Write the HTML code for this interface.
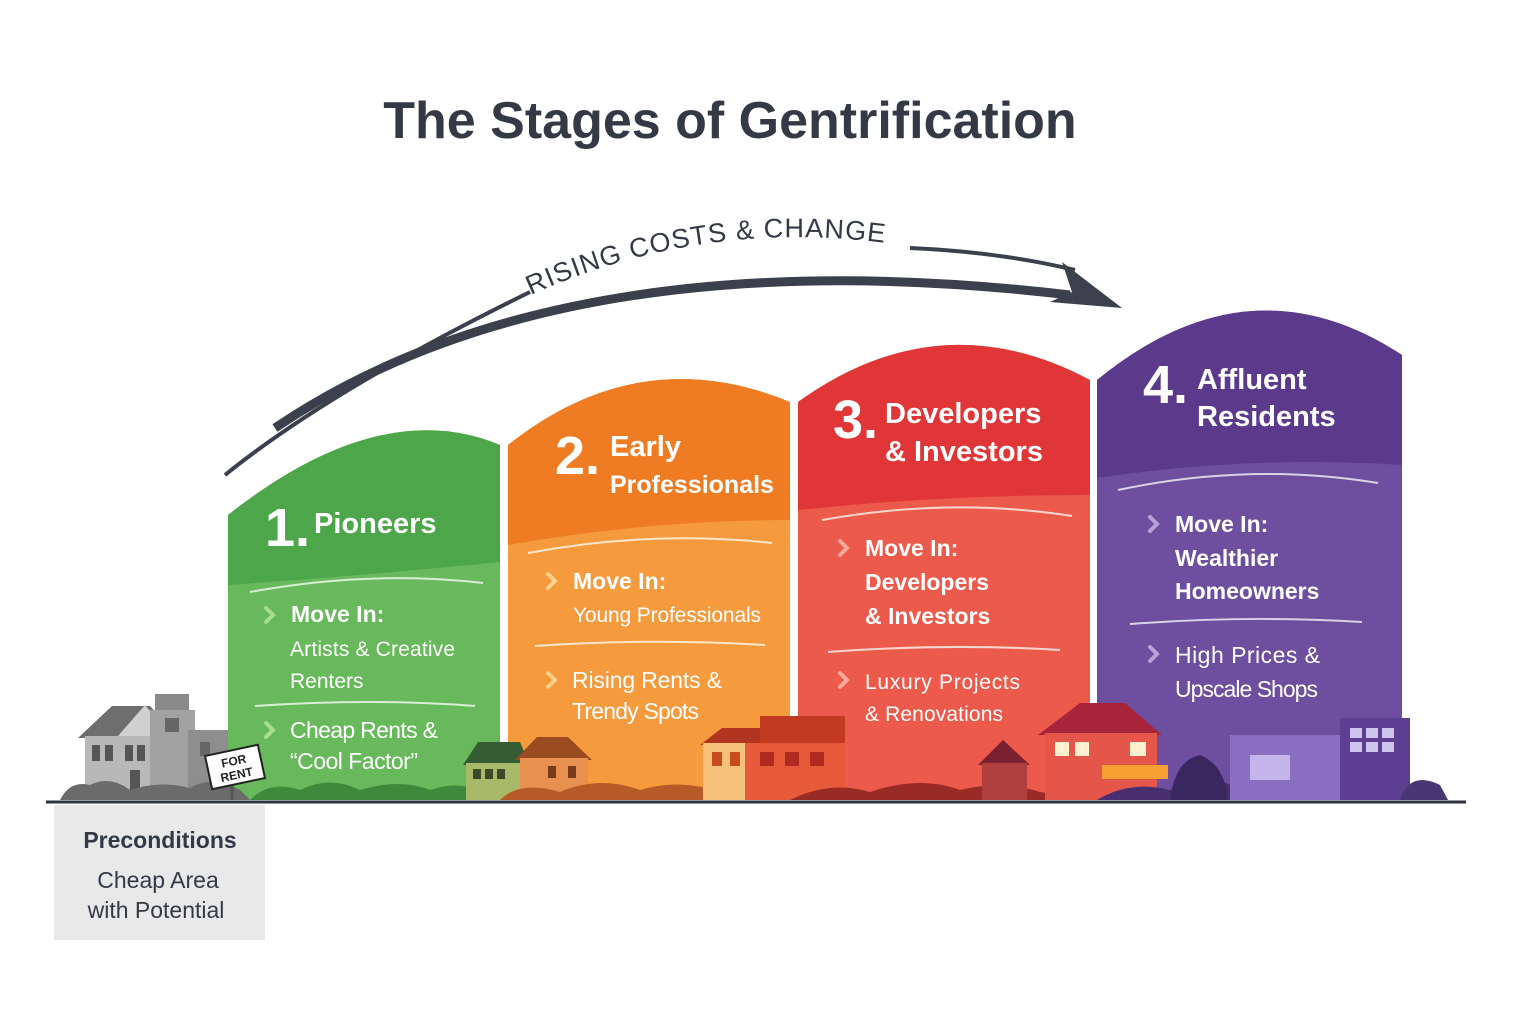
<!DOCTYPE html>
<html><head><meta charset="utf-8"><style>
html,body{margin:0;padding:0;background:#fff;}
svg{display:block;}
text{font-family:"Liberation Sans",sans-serif;}
.w{fill:#fff;font-weight:bold;}
</style></head><body>
<svg width="1536" height="1024" viewBox="0 0 1536 1024" xmlns="http://www.w3.org/2000/svg">
<defs>
<clipPath id="c1"><path d="M228,515 Q380,395 500,445 L500,800 L228,800Z"/></clipPath>
<clipPath id="c2"><path d="M508,445 Q640,340 790,402 L790,800 L508,800Z"/></clipPath>
<clipPath id="c3"><path d="M798,402 Q940,300 1090,380 L1090,800 L798,800Z"/></clipPath>
<clipPath id="c4"><path d="M1097,380 Q1250,255 1402,355 L1402,800 L1097,800Z"/></clipPath>
<path id="txtp" d="M520,300 Q700,215 900,245"/>
</defs>
<text x="730" y="138" text-anchor="middle" font-size="52" font-weight="bold" fill="#333a46">The Stages of Gentrification</text>

<!-- arc arrow -->
<path d="M225,475 Q330,390 530,292" fill="none" stroke="#3a404c" stroke-width="4"/>
<path d="M275,428 Q560,235 1070,295" fill="none" stroke="#3a404c" stroke-width="9"/>
<path d="M910,248 Q1000,252 1075,270" fill="none" stroke="#3a404c" stroke-width="4"/>
<polygon points="1122,308 1062,262 1072,292 1050,302" fill="#3a404c"/>
<text font-size="27" fill="#333a46" letter-spacing="1"><textPath href="#txtp" startOffset="3%">RISING COSTS &amp; CHANGE</textPath></text>

<!-- columns -->
<g clip-path="url(#c1)"><rect x="228" y="380" width="272" height="420" fill="#67b95b"/><path d="M228,380 L500,380 L500,562 Q370,575 228,585Z" fill="#4ea64a"/></g>
<g clip-path="url(#c2)"><rect x="508" y="330" width="282" height="470" fill="#f69a3e"/><path d="M508,330 L790,330 L790,520 Q650,520 508,545Z" fill="#ef7c22"/></g>
<g clip-path="url(#c3)"><rect x="798" y="290" width="292" height="510" fill="#ec5a4b"/><path d="M798,290 L1090,290 L1090,495 Q940,495 798,510Z" fill="#e03637"/></g>
<g clip-path="url(#c4)"><rect x="1097" y="250" width="305" height="550" fill="#6e4f9f"/><path d="M1097,250 L1402,250 L1402,465 Q1250,455 1097,478Z" fill="#5b3a8c"/></g>

<!-- dividers -->
<g fill="none" stroke="#fff" stroke-opacity="0.75" stroke-width="2">
<path d="M250,592 Q370,570 483,583"/><path d="M255,706 Q370,698 475,706"/>
<path d="M528,553 Q650,530 772,543"/><path d="M535,646 Q650,638 765,645"/>
<path d="M822,520 Q950,497 1072,516"/><path d="M828,652 Q950,643 1060,650"/>
<path d="M1118,490 Q1250,462 1378,483"/><path d="M1130,624 Q1250,615 1362,622"/>
</g>

<!-- texts -->
<text class="w" x="265" y="546" font-size="54">1.</text>
<text class="w" x="314" y="533" font-size="29">Pioneers</text>
<text class="w" x="555" y="474" font-size="54">2.</text>
<text class="w" x="610" y="456" font-size="29">Early</text>
<text class="w" x="610" y="493" font-size="25">Professionals</text>
<text class="w" x="833" y="438" font-size="54">3.</text>
<text class="w" x="885" y="423" font-size="29">Developers</text>
<text class="w" x="885" y="461" font-size="29">&amp; Investors</text>
<text class="w" x="1143" y="403" font-size="54">4.</text>
<text class="w" x="1197" y="389" font-size="29">Affluent</text>
<text class="w" x="1197" y="426" font-size="29">Residents</text>

<g font-size="23" class="w">
<text x="291" y="622" fill="#fff">Move In:</text>
<text x="290" y="656" font-size="21" fill="#fff" style="font-weight:normal" textLength="165">Artists &amp; Creative</text>
<text x="290" y="688" font-size="21" fill="#fff" style="font-weight:normal">Renters</text>
<text x="290" y="738" font-size="23" fill="#fff" style="font-weight:normal" textLength="148">Cheap Rents &amp;</text>
<text x="290" y="769" font-size="23" fill="#fff" style="font-weight:normal" textLength="128">“Cool Factor”</text>
<text x="573" y="589" fill="#fff">Move In:</text>
<text x="573" y="622" font-size="21" fill="#fff" style="font-weight:normal" textLength="188">Young Professionals</text>
<text x="572" y="688" fill="#fff" style="font-weight:normal" textLength="150">Rising Rents &amp;</text>
<text x="572" y="719" fill="#fff" style="font-weight:normal" textLength="127">Trendy Spots</text>
<text x="865" y="556" fill="#fff">Move In:</text>
<text x="865" y="590" fill="#fff">Developers</text>
<text x="865" y="624" fill="#fff">&amp; Investors</text>
<text x="865" y="689" font-size="21" fill="#fff" style="font-weight:normal" textLength="155">Luxury Projects</text>
<text x="865" y="721" font-size="21" fill="#fff" style="font-weight:normal" textLength="138">&amp; Renovations</text>
<text x="1175" y="532" fill="#fff">Move In:</text>
<text x="1175" y="566" fill="#fff">Wealthier</text>
<text x="1175" y="599" fill="#fff">Homeowners</text>
<text x="1175" y="663" fill="#fff" style="font-weight:normal" textLength="145">High Prices &amp;</text>
<text x="1175" y="697" fill="#fff" style="font-weight:normal" textLength="143">Upscale Shops</text>
</g>
<g fill="none" stroke-width="4" stroke-linecap="round">
<path d="M266,608 L273,615 L266,622" stroke="#a9dc8e"/>
<path d="M266,723 L273,730 L266,737" stroke="#a9dc8e"/>
<path d="M548,574 L555,581 L548,588" stroke="#ffd08a"/>
<path d="M548,673 L555,680 L548,687" stroke="#ffd08a"/>
<path d="M840,541 L847,548 L840,555" stroke="#f7a99b"/>
<path d="M840,673 L847,680 L840,687" stroke="#f7a99b"/>
<path d="M1150,517 L1157,524 L1150,531" stroke="#b7a2d8"/>
<path d="M1150,647 L1157,654 L1150,661" stroke="#b7a2d8"/>
</g>

<!-- left gray houses -->
<g>
<rect x="155" y="694" width="34" height="25" fill="#8a8a8a"/>
<polygon points="78,738 112,706 150,706 180,738" fill="#6e6e6e"/>
<rect x="85" y="736" width="90" height="60" fill="#b8b8b8"/>
<polygon points="118,736 145,705 172,736" fill="#d0d0d0"/>
<rect x="150" y="710" width="45" height="85" fill="#a2a2a2"/>
<rect x="188" y="730" width="40" height="65" fill="#8e8e8e"/>
<rect x="92" y="745" width="8" height="16" fill="#555"/><rect x="105" y="745" width="8" height="16" fill="#555"/>
<rect x="125" y="745" width="8" height="16" fill="#555"/><rect x="137" y="745" width="8" height="16" fill="#555"/>
<rect x="130" y="770" width="10" height="25" fill="#555"/>
<rect x="165" y="718" width="14" height="14" fill="#666"/><rect x="200" y="742" width="10" height="14" fill="#666"/>
<path d="M60,800 Q70,780 90,785 Q110,775 130,790 Q160,780 190,788 Q210,775 240,790 L250,800Z" fill="#6b6b6b"/>
<line x1="232" y1="775" x2="232" y2="800" stroke="#555" stroke-width="3"/>
<g transform="rotate(-12 235 767)"><rect x="208" y="750" width="54" height="34" fill="#fff" stroke="#222" stroke-width="2"/>
<text x="235" y="765" font-size="12" font-weight="bold" text-anchor="middle" fill="#222">FOR</text>
<text x="235" y="779" font-size="12" font-weight="bold" text-anchor="middle" fill="#222">RENT</text></g>
</g>

<!-- ground bushes / houses -->
<path d="M250,800 Q270,780 300,790 Q330,775 360,790 Q400,778 430,790 Q460,780 480,792 L500,800Z" fill="#3d8a3a"/>
<polygon points="463,765 478,742 520,742 530,765" fill="#355c33"/>
<rect x="466" y="763" width="60" height="37" fill="#a9b96a"/>
<rect x="473" y="769" width="8" height="10" fill="#3d4a2a"/><rect x="485" y="769" width="8" height="10" fill="#3d4a2a"/><rect x="497" y="769" width="8" height="10" fill="#3d4a2a"/>
<polygon points="515,760 537,737 568,737 592,760" fill="#9a4b20"/>
<rect x="520" y="758" width="68" height="42" fill="#e89050"/>
<rect x="548" y="766" width="8" height="12" fill="#7a3a1a"/><rect x="568" y="766" width="8" height="12" fill="#7a3a1a"/>
<path d="M500,800 Q520,780 560,792 Q600,775 640,790 Q680,778 720,792 L790,800Z" fill="#b65a28"/>
<polygon points="700,745 722,728 770,728 800,745" fill="#b2351f"/>
<rect x="703" y="743" width="95" height="57" fill="#f4c07a"/>
<rect x="760" y="716" width="85" height="30" fill="#c23a22"/>
<rect x="745" y="743" width="100" height="57" fill="#e65a3a"/>
<rect x="712" y="752" width="10" height="14" fill="#c84a20"/><rect x="730" y="752" width="10" height="14" fill="#c84a20"/>
<rect x="760" y="752" width="14" height="14" fill="#b02a20"/><rect x="785" y="752" width="14" height="14" fill="#b02a20"/><rect x="810" y="752" width="14" height="14" fill="#b02a20"/>
<path d="M790,800 Q830,780 870,792 Q920,775 960,790 Q1000,780 1040,792 L1097,800Z" fill="#9a2a25"/>
<polygon points="978,765 1003,740 1030,765" fill="#7a2030"/>
<rect x="982" y="763" width="45" height="37" fill="#b04040"/>
<polygon points="1038,735 1080,703 1125,703 1162,735" fill="#a8243a"/>
<rect x="1045" y="733" width="112" height="67" fill="#e5564a"/>
<rect x="1055" y="742" width="14" height="14" fill="#fff0d0"/><rect x="1075" y="742" width="14" height="14" fill="#fff0d0"/><rect x="1130" y="742" width="16" height="14" fill="#fff0d0"/>
<rect x="1102" y="765" width="66" height="14" fill="#f5a030"/>
<path d="M1097,800 Q1130,780 1170,790 Q1210,770 1240,790 L1240,800Z" fill="#4a2f70"/>
<rect x="1230" y="735" width="110" height="65" fill="#8a6fc0"/>
<rect x="1340" y="718" width="70" height="82" fill="#5c3f90"/>
<rect x="1350" y="728" width="12" height="10" fill="#d0c4ee"/><rect x="1366" y="728" width="12" height="10" fill="#d0c4ee"/><rect x="1382" y="728" width="12" height="10" fill="#d0c4ee"/>
<rect x="1350" y="742" width="12" height="10" fill="#d0c4ee"/><rect x="1366" y="742" width="12" height="10" fill="#d0c4ee"/><rect x="1382" y="742" width="12" height="10" fill="#d0c4ee"/>
<rect x="1250" y="755" width="40" height="25" fill="#c6b5ea"/>
<path d="M1170,800 Q1175,760 1200,755 Q1225,765 1228,800Z" fill="#3b2760"/>
<path d="M1400,800 Q1410,770 1440,785 L1448,800Z" fill="#4a3575"/>

<line x1="46" y1="802" x2="1466" y2="802" stroke="#2f3440" stroke-width="3"/>

<!-- preconditions -->
<rect x="54" y="805" width="211" height="135" fill="#e9e9e9"/>
<text x="160" y="848" text-anchor="middle" font-size="23" font-weight="bold" fill="#333a46">Preconditions</text>
<text x="158" y="888" text-anchor="middle" font-size="23" fill="#333a46">Cheap Area</text>
<text x="156" y="918" text-anchor="middle" font-size="23" fill="#333a46">with Potential</text>
</svg>
</body></html>
